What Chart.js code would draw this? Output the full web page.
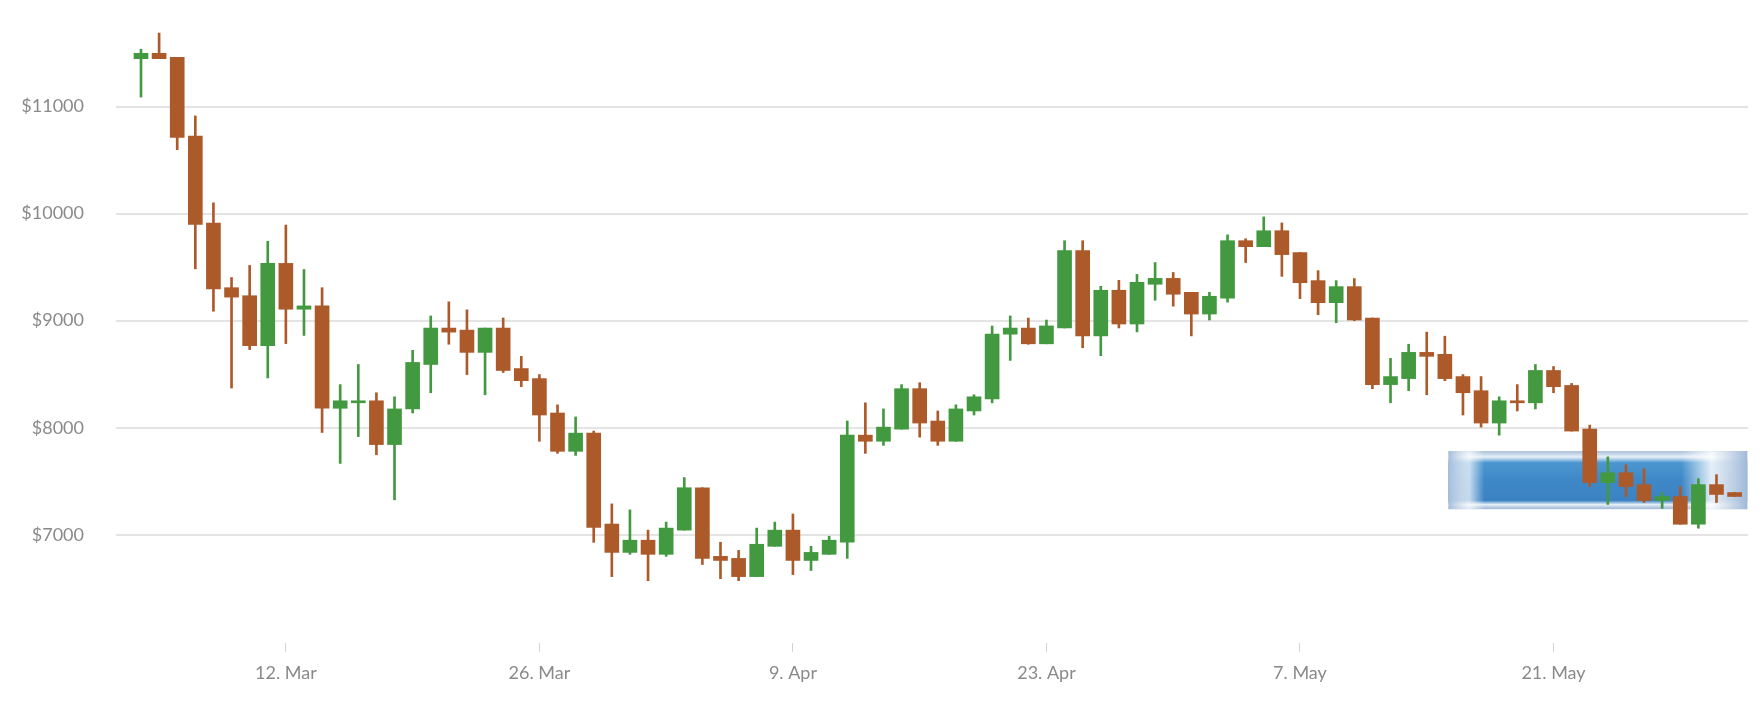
<!DOCTYPE html>
<html>
<head>
<meta charset="utf-8">
<script src="https://cdn.jsdelivr.net/npm/chart.js@4/dist/chart.umd.min.js"></script>
<style>
  body { margin: 0; background: #fff; }
</style>
</head>
<body>
<canvas id="chart" width="1762" height="708"></canvas>
<script>
// daily candles, 4 Mar .. 31 May
const opens = [11447,11497,11459,10723,9912,9308,9233,8767,9535,9107,9138,8182,8233,8252,7843,8176,8591,8931,8912,8704,
  8931,8553,8459,8138,7780,7950,7101,6836,6950,6818,7044,7440,6799,6780,6610,6893,7044,6761,6818,6931,
  7931,7874,7987,8365,8063,7874,8157,8270,8874,8931,8784,8932,9654,8858,9284,8969,9340,9395,9265,9062,
  9210,9747,9691,9840,9636,9374,9168,9318,9025,8403,8459,8704,8686,8478,8346,8044,8252,8233,8535,8395,
  7988,7488,7580,7469,7321,7358,7099,7469,7395];
const highs = [11535,11686,11459,10912,10101,9403,9516,9742,9893,9478,9308,8403,8591,8327,8289,8723,9044,9176,9101,8931,
  9025,8667,8497,8214,8101,7969,7289,7233,7044,7119,7535,7440,6931,6855,7063,7119,7195,6893,6987,8063,
  8233,8176,8403,8421,8157,8214,8308,8950,9044,9025,9006,9747,9747,9321,9377,9432,9543,9450,9265,9265,
  9802,9765,9969,9913,9636,9467,9374,9393,9025,8648,8780,8893,8855,8497,8478,8289,8403,8591,8572,8414,
  8025,7728,7654,7617,7395,7451,7525,7562,7395];
const lows = [11088,11447,10597,9484,9088,8371,8730,8465,8786,8862,7956,7667,7918,7748,7327,8138,8327,8780,8497,8308,
  8516,8384,7874,7761,7742,6930,6610,6818,6572,6799,7044,6723,6591,6572,6610,6893,6629,6667,6818,6780,
  7761,7836,7987,7912,7836,7874,8119,8233,8629,8780,8784,8932,8747,8673,8932,8895,9191,9136,8858,9006,
  9173,9543,9691,9414,9206,9056,8981,9000,8365,8233,8346,8308,8440,8119,8006,7931,8157,8176,8327,7969,
  7451,7284,7358,7302,7247,7099,7062,7302,7358];
const closes = [11497,11447,10711,9899,9296,9220,8767,9535,9107,9138,8182,8252,8252,7843,8176,8610,8931,8893,8704,8931,
  8535,8440,8119,7780,7950,7070,6836,6950,6818,7063,7440,6780,6761,6610,6912,7044,6761,6836,6950,7931,
  7874,8006,8365,8044,7874,8176,8289,8874,8931,8784,8951,9654,8858,9284,8969,9358,9395,9247,9062,9228,
  9747,9691,9840,9617,9355,9168,9318,9006,8403,8478,8704,8667,8459,8327,8044,8252,8233,8535,8384,7969,
  7488,7580,7451,7321,7358,7099,7469,7377,7358];

const tickIndex = [8, 22, 36, 50, 64, 78];
const tickLabels = ['12. Mar', '26. Mar', '9. Apr', '23. Apr', '7. May', '21. May'];
const yTicks = [7000, 8000, 9000, 10000, 11000];

const UP = '#43993f';
const DOWN = '#ac5a2a';

const colors = opens.map((o, i) => closes[i] >= o ? UP : DOWN);
const bodies = opens.map((o, i) => ({ x: i, y: [o, closes[i]] }));
const wicks = opens.map((o, i) => ({ x: i, y: [lows[i], highs[i]] }));

// the blue smear in the lower right
const overlay = {
  id: 'overlay',
  beforeDatasetsDraw(c) {
    const x = c.scales.x, y = c.scales.y, ctx = c.ctx;
    const x0 = x.getPixelForValue(72.2), x1 = x.getPixelForValue(88.7);
    const y0 = y.getPixelForValue(7782), y1 = y.getPixelForValue(7240);
    ctx.save();
    let g = ctx.createLinearGradient(0, y0, 0, y1);
    g.addColorStop(0, '#a6bedb');
    g.addColorStop(0.1, '#e8f0f8');
    g.addColorStop(0.2, '#4c96cf');
    g.addColorStop(0.5, '#3f88c8');
    g.addColorStop(0.85, '#3b82c2');
    g.addColorStop(0.92, '#e4eef7');
    g.addColorStop(1, '#9bb5d6');
    ctx.fillStyle = g;
    ctx.fillRect(x0, y0, x1 - x0, y1 - y0);
    let h = ctx.createLinearGradient(x0, 0, x1, 0);
    h.addColorStop(0, 'rgba(166,190,219,1)');
    h.addColorStop(0.07, 'rgba(255,255,255,0.7)');
    h.addColorStop(0.12, 'rgba(255,255,255,0)');
    h.addColorStop(0.78, 'rgba(255,255,255,0)');
    h.addColorStop(0.88, 'rgba(255,255,255,0.85)');
    h.addColorStop(1, 'rgba(160,185,215,1)');
    ctx.fillStyle = h;
    ctx.fillRect(x0, y0, x1 - x0, y1 - y0);
    ctx.restore();
  }
};

new Chart(document.getElementById('chart'), {
  type: 'bar',
  data: {
    datasets: [
      { data: wicks, backgroundColor: colors, barThickness: 2, grouped: false, order: 2, clip: false },
      { data: bodies, backgroundColor: colors, barThickness: 14, grouped: false, order: 1, minBarLength: 2, clip: false }
    ]
  },
  options: {
    responsive: false,
    devicePixelRatio: 1,
    animation: false,
    layout: { autoPadding: false, padding: { left: 0, right: 14, top: 0, bottom: 0 } },
    plugins: { legend: { display: false }, tooltip: { enabled: false } },
    scales: {
      x: {
        type: 'linear',
        offset: false,
        min: -1.38,
        max: 88.74,
        afterBuildTicks: s => { s.ticks = tickIndex.map(v => ({ value: v })); },
        afterFit: s => { s.height = 65; },
        border: { display: false },
        grid: { offset: false, drawOnChartArea: false, drawTicks: true, tickLength: 9, color: '#cfd3dc' },
        ticks: {
          autoSkip: false, maxRotation: 0, padding: 10,
          color: '#8a8a8a', font: { family: 'Lato', size: 18 },
          callback: v => tickLabels[tickIndex.indexOf(v)]
        }
      },
      y: {
        min: 5990,
        max: 11595,
        afterBuildTicks: s => { s.ticks = yTicks.map(v => ({ value: v })); },
        afterFit: s => { s.width = 116; },
        border: { display: false },
        grid: { color: '#e4e4e4', lineWidth: 2, drawTicks: false },
        ticks: {
          padding: 32, color: '#8a8a8a', font: { family: 'Lato', size: 18 },
          callback: v => '$' + v
        }
      }
    }
  },
  plugins: [overlay]
});
</script>
</body>
</html>
